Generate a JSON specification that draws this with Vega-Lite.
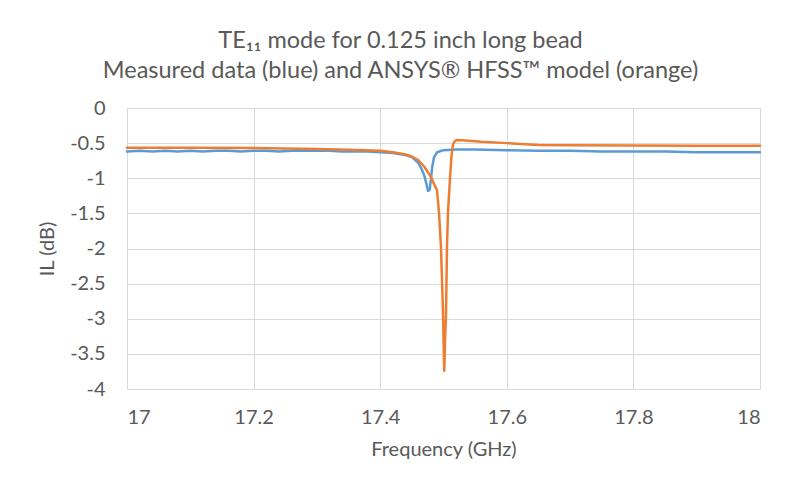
{
  "$schema": "https://vega.github.io/schema/vega-lite/v6.json",
  "autosize": {"type": "none"},
  "padding": {"left": 127, "top": 108, "right": 33, "bottom": 93},
  "width": 633,
  "height": 281,
  "background": "white",
  "config": {
    "font": "Lato",
    "view": {"stroke": null},
    "axis": {"labelColor": "#595959", "titleColor": "#595959", "gridColor": "#d9d9d9", "domain": false, "ticks": false, "labelFont": "Lato", "titleFont": "Lato", "titleFontWeight": "normal"}
  },
  "title": {
    "text": ["TE₁₁ mode for 0.125 inch long bead", "Measured data (blue) and ANSYS® HFSS™ model (orange)"],
    "font": "Lato",
    "fontSize": 23.5,
    "fontWeight": "normal",
    "color": "#595959",
    "lineHeight": 30,
    "anchor": "middle",
    "dx": -43,
    "offset": 16
  },
  "datasets": {
    "pts": [
      {"f": 17.00, "v": -0.62, "s": "Measured"},
      {"f": 17.02, "v": -0.61, "s": "Measured"},
      {"f": 17.04, "v": -0.62, "s": "Measured"},
      {"f": 17.06, "v": -0.61, "s": "Measured"},
      {"f": 17.08, "v": -0.62, "s": "Measured"},
      {"f": 17.10, "v": -0.61, "s": "Measured"},
      {"f": 17.12, "v": -0.62, "s": "Measured"},
      {"f": 17.14, "v": -0.61, "s": "Measured"},
      {"f": 17.16, "v": -0.61, "s": "Measured"},
      {"f": 17.18, "v": -0.62, "s": "Measured"},
      {"f": 17.20, "v": -0.61, "s": "Measured"},
      {"f": 17.22, "v": -0.61, "s": "Measured"},
      {"f": 17.24, "v": -0.62, "s": "Measured"},
      {"f": 17.26, "v": -0.61, "s": "Measured"},
      {"f": 17.28, "v": -0.61, "s": "Measured"},
      {"f": 17.30, "v": -0.61, "s": "Measured"},
      {"f": 17.32, "v": -0.61, "s": "Measured"},
      {"f": 17.34, "v": -0.62, "s": "Measured"},
      {"f": 17.36, "v": -0.62, "s": "Measured"},
      {"f": 17.38, "v": -0.62, "s": "Measured"},
      {"f": 17.40, "v": -0.63, "s": "Measured"},
      {"f": 17.42, "v": -0.64, "s": "Measured"},
      {"f": 17.44, "v": -0.67, "s": "Measured"},
      {"f": 17.45, "v": -0.70, "s": "Measured"},
      {"f": 17.46, "v": -0.78, "s": "Measured"},
      {"f": 17.465, "v": -0.86, "s": "Measured"},
      {"f": 17.47, "v": -0.97, "s": "Measured"},
      {"f": 17.473, "v": -1.08, "s": "Measured"},
      {"f": 17.4755, "v": -1.18, "s": "Measured"},
      {"f": 17.478, "v": -1.17, "s": "Measured"},
      {"f": 17.480, "v": -1.03, "s": "Measured"},
      {"f": 17.482, "v": -0.85, "s": "Measured"},
      {"f": 17.485, "v": -0.70, "s": "Measured"},
      {"f": 17.49, "v": -0.63, "s": "Measured"},
      {"f": 17.50, "v": -0.60, "s": "Measured"},
      {"f": 17.52, "v": -0.59, "s": "Measured"},
      {"f": 17.55, "v": -0.59, "s": "Measured"},
      {"f": 17.60, "v": -0.60, "s": "Measured"},
      {"f": 17.65, "v": -0.61, "s": "Measured"},
      {"f": 17.70, "v": -0.61, "s": "Measured"},
      {"f": 17.75, "v": -0.62, "s": "Measured"},
      {"f": 17.80, "v": -0.62, "s": "Measured"},
      {"f": 17.85, "v": -0.62, "s": "Measured"},
      {"f": 17.90, "v": -0.63, "s": "Measured"},
      {"f": 17.95, "v": -0.63, "s": "Measured"},
      {"f": 18.00, "v": -0.63, "s": "Measured"},
      {"f": 17.00, "v": -0.565, "s": "Model"},
      {"f": 17.10, "v": -0.565, "s": "Model"},
      {"f": 17.20, "v": -0.57, "s": "Model"},
      {"f": 17.30, "v": -0.585, "s": "Model"},
      {"f": 17.35, "v": -0.595, "s": "Model"},
      {"f": 17.40, "v": -0.61, "s": "Model"},
      {"f": 17.42, "v": -0.63, "s": "Model"},
      {"f": 17.44, "v": -0.66, "s": "Model"},
      {"f": 17.45, "v": -0.69, "s": "Model"},
      {"f": 17.46, "v": -0.74, "s": "Model"},
      {"f": 17.47, "v": -0.84, "s": "Model"},
      {"f": 17.48, "v": -0.98, "s": "Model"},
      {"f": 17.485, "v": -1.08, "s": "Model"},
      {"f": 17.4897, "v": -1.17, "s": "Model"},
      {"f": 17.493, "v": -1.5, "s": "Model"},
      {"f": 17.496, "v": -1.98, "s": "Model"},
      {"f": 17.4978, "v": -2.5, "s": "Model"},
      {"f": 17.4992, "v": -2.92, "s": "Model"},
      {"f": 17.5003, "v": -3.4, "s": "Model"},
      {"f": 17.5012, "v": -3.74, "s": "Model"},
      {"f": 17.5025, "v": -3.3, "s": "Model"},
      {"f": 17.504, "v": -2.92, "s": "Model"},
      {"f": 17.5055, "v": -1.98, "s": "Model"},
      {"f": 17.507, "v": -1.5, "s": "Model"},
      {"f": 17.510, "v": -1.04, "s": "Model"},
      {"f": 17.5125, "v": -0.7, "s": "Model"},
      {"f": 17.515, "v": -0.52, "s": "Model"},
      {"f": 17.518, "v": -0.47, "s": "Model"},
      {"f": 17.522, "v": -0.455, "s": "Model"},
      {"f": 17.54, "v": -0.465, "s": "Model"},
      {"f": 17.56, "v": -0.48, "s": "Model"},
      {"f": 17.60, "v": -0.50, "s": "Model"},
      {"f": 17.65, "v": -0.525, "s": "Model"},
      {"f": 17.70, "v": -0.53, "s": "Model"},
      {"f": 17.80, "v": -0.535, "s": "Model"},
      {"f": 17.90, "v": -0.537, "s": "Model"},
      {"f": 18.00, "v": -0.537, "s": "Model"}
    ]
  },
  "data": {"name": "pts"},
  "mark": {"type": "line", "strokeWidth": 2.5, "strokeCap": "round", "strokeJoin": "round"},
  "encoding": {
    "x": {
      "field": "f", "type": "quantitative",
      "scale": {"domain": [17, 18], "nice": false, "zero": false},
      "axis": {"title": "Frequency (GHz)", "values": [17, 17.2, 17.4, 17.6, 17.8, 18], "labelExpr": "'' + datum.value", "labelFontSize": 20, "titleFontSize": 20, "labelPadding": 18, "titlePadding": 12, "domain": true, "domainColor": "#d9d9d9"}
    },
    "y": {
      "field": "v", "type": "quantitative",
      "scale": {"domain": [-4, 0], "nice": false, "zero": false},
      "axis": {"title": "IL (dB)", "values": [0, -0.5, -1, -1.5, -2, -2.5, -3, -3.5, -4], "labelExpr": "'' + datum.value", "labelFontSize": 20, "titleFontSize": 20, "labelPadding": 22, "titlePadding": 12}
    },
    "color": {
      "field": "s", "type": "nominal",
      "scale": {"domain": ["Measured", "Model"], "range": ["#5b9bd5", "#ed7d31"]},
      "legend": null
    },
    "order": {"field": "f", "type": "quantitative"}
  }
}
